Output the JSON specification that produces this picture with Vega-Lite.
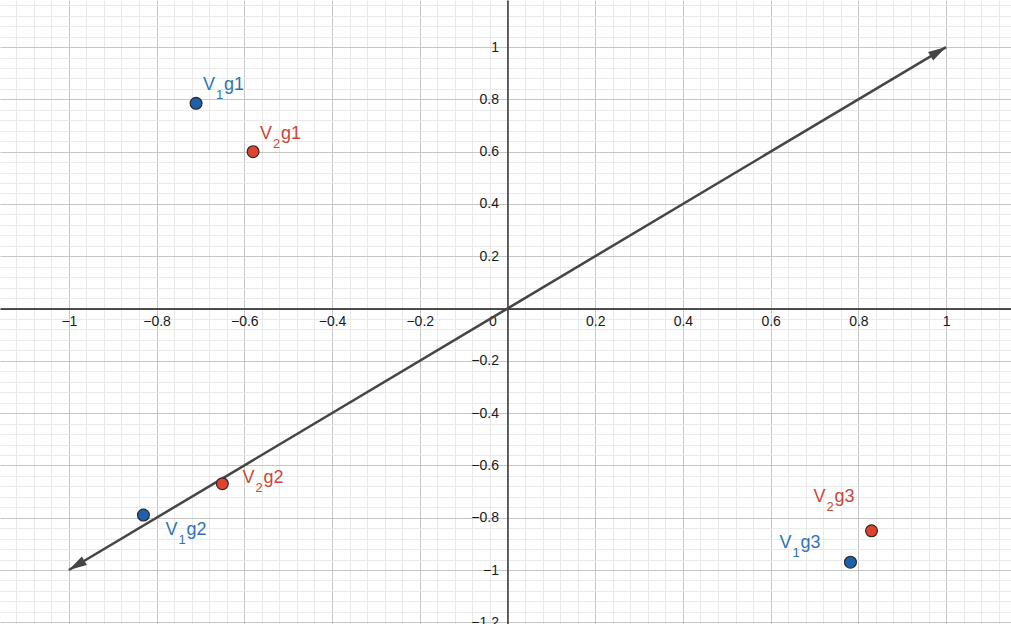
{
  "$schema": "https://vega.github.io/schema/vega-lite/v6.json",
  "width": 1011,
  "height": 624,
  "autosize": "none",
  "padding": 0,
  "background": "white",
  "config": {
    "view": {"stroke": null},
    "text": {"align": "left", "baseline": "alphabetic", "font": "Liberation Sans, Arial, sans-serif", "fontSize": 18}
  },
  "datasets": {
    "pts": [
      {"label": "V1g1", "vec": "V1", "sub": "1", "rest": "g1", "x": -0.71, "y": 0.785},
      {"label": "V2g1", "vec": "V2", "sub": "2", "rest": "g1", "x": -0.58, "y": 0.6},
      {"label": "V1g2", "vec": "V1", "sub": "1", "rest": "g2", "x": -0.83, "y": -0.79},
      {"label": "V2g2", "vec": "V2", "sub": "2", "rest": "g2", "x": -0.65, "y": -0.67},
      {"label": "V1g3", "vec": "V1", "sub": "1", "rest": "g3", "x": 0.782, "y": -0.97},
      {"label": "V2g3", "vec": "V2", "sub": "2", "rest": "g3", "x": 0.83, "y": -0.85}
    ],
    "line": [
      {"end": "start", "x": -1, "y": -1},
      {"end": "end", "x": 1, "y": 1}
    ]
  },
  "layer": [
    {
      "data": {"name": "line"},
      "mark": {"type": "line", "color": "#454545", "strokeWidth": 2.5},
      "encoding": {
        "x": {
          "field": "x", "type": "quantitative",
          "scale": {"domain": [-1.157, 1.148], "nice": false, "zero": false},
          "axis": {
            "orient": "bottom", "offset": -315.5, "title": null, "ticks": false, "tickCount": 1000, "format": "~g",
            "values": [-1.12,-1.08,-1.04,-1,-0.96,-0.92,-0.88,-0.84,-0.8,-0.76,-0.72,-0.68,-0.64,-0.6,-0.56,-0.52,-0.48,-0.44,-0.4,-0.36,-0.32,-0.28,-0.24,-0.2,-0.16,-0.12,-0.08,-0.04,0,0.04,0.08,0.12,0.16,0.2,0.24,0.28,0.32,0.36,0.4,0.44,0.48,0.52,0.56,0.6,0.64,0.68,0.72,0.76,0.8,0.84,0.88,0.92,0.96,1,1.04,1.08,1.12],
            "domainColor": "#1a1a1a", "domainWidth": 1.3,
            "grid": true,
            "gridColor": {"condition": {"test": "abs(datum.value*5-round(datum.value*5))<0.001", "value": "#c6c6c6"}, "value": "#e9e9e9"},
            "gridWidth": 1,
            "labelExpr": "abs(datum.value*5-round(datum.value*5))<0.001 ? datum.label : ''",
            "labelFont": "Liberation Sans", "labelFontSize": 14, "labelColor": "#1a1a1a",
            "labelPadding": 6,
            "labelOffset": {"condition": {"test": "datum.value==0", "value": -15}, "value": 0},
            "labelFlush": false, "labelOverlap": false, "labelBound": false
          }
        },
        "y": {
          "field": "y", "type": "quantitative",
          "scale": {"domain": [-1.2065, 1.18], "nice": false, "zero": false},
          "axis": {
            "orient": "left", "offset": -507.5, "title": null, "ticks": false, "tickCount": 1000, "format": "~g",
            "values": [-1.2,-1.16,-1.12,-1.08,-1.04,-1,-0.96,-0.92,-0.88,-0.84,-0.8,-0.76,-0.72,-0.68,-0.64,-0.6,-0.56,-0.52,-0.48,-0.44,-0.4,-0.36,-0.32,-0.28,-0.24,-0.2,-0.16,-0.12,-0.08,-0.04,0,0.04,0.08,0.12,0.16,0.2,0.24,0.28,0.32,0.36,0.4,0.44,0.48,0.52,0.56,0.6,0.64,0.68,0.72,0.76,0.8,0.84,0.88,0.92,0.96,1,1.04,1.08,1.12,1.16],
            "domainColor": "#1a1a1a", "domainWidth": 1.3,
            "grid": true,
            "gridColor": {"condition": {"test": "abs(datum.value*5-round(datum.value*5))<0.001", "value": "#c6c6c6"}, "value": "#e9e9e9"},
            "gridWidth": 1,
            "labelExpr": "(abs(datum.value*5-round(datum.value*5))<0.001 && datum.value != 0) ? datum.label : ''",
            "labelFont": "Liberation Sans", "labelFontSize": 14, "labelColor": "#1a1a1a",
            "labelPadding": 9, "labelBaseline": "middle",
            "labelFlush": false, "labelOverlap": false, "labelBound": false
          }
        }
      }
    },
    {
      "data": {"name": "line"},
      "transform": [{"filter": "datum.end == 'end'"}],
      "mark": {"type": "point", "shape": "M0,0L-0.55,2L0.55,2Z", "size": 324, "angle": 59.2, "filled": true, "color": "#454545", "opacity": 1},
      "encoding": {"x": {"field": "x", "type": "quantitative"}, "y": {"field": "y", "type": "quantitative"}}
    },
    {
      "data": {"name": "line"},
      "transform": [{"filter": "datum.end == 'start'"}],
      "mark": {"type": "point", "shape": "M0,0L-0.55,2L0.55,2Z", "size": 324, "angle": 239.2, "filled": true, "color": "#454545", "opacity": 1},
      "encoding": {"x": {"field": "x", "type": "quantitative"}, "y": {"field": "y", "type": "quantitative"}}
    },
    {
      "data": {"name": "pts"},
      "mark": {"type": "point", "shape": "circle", "size": 140, "filled": true, "opacity": 1, "stroke": "#2a2a2a", "strokeWidth": 1.2},
      "encoding": {
        "x": {"field": "x", "type": "quantitative"},
        "y": {"field": "y", "type": "quantitative"},
        "fill": {"field": "vec", "type": "nominal", "scale": {"domain": ["V1", "V2"], "range": ["#1f60aa", "#e0432d"]}, "legend": null}
      }
    },
    {
      "data": {"name": "pts"},
      "transform": [{"filter": "datum.label == 'V1g1'"}],
      "encoding": {"x": {"field": "x", "type": "quantitative"}, "y": {"field": "y", "type": "quantitative"}},
      "layer": [
        {"mark": {"type": "text", "dx": 7, "dy": -13, "color": "#2f74b2"}, "encoding": {"text": {"value": "V"}}},
        {"mark": {"type": "text", "dx": 20, "dy": -4, "fontSize": 13, "color": "#2f74b2"}, "encoding": {"text": {"field": "sub"}}},
        {"mark": {"type": "text", "dx": 28, "dy": -13, "color": "#2f74b2"}, "encoding": {"text": {"field": "rest"}}}
      ]
    },
    {
      "data": {"name": "pts"},
      "transform": [{"filter": "datum.label == 'V2g1'"}],
      "encoding": {"x": {"field": "x", "type": "quantitative"}, "y": {"field": "y", "type": "quantitative"}},
      "layer": [
        {"mark": {"type": "text", "dx": 7, "dy": -13, "color": "#c9473a"}, "encoding": {"text": {"value": "V"}}},
        {"mark": {"type": "text", "dx": 20, "dy": -4, "fontSize": 13, "color": "#c9473a"}, "encoding": {"text": {"field": "sub"}}},
        {"mark": {"type": "text", "dx": 28, "dy": -13, "color": "#c9473a"}, "encoding": {"text": {"field": "rest"}}}
      ]
    },
    {
      "data": {"name": "pts"},
      "transform": [{"filter": "datum.label == 'V2g2'"}],
      "encoding": {"x": {"field": "x", "type": "quantitative"}, "y": {"field": "y", "type": "quantitative"}},
      "layer": [
        {"mark": {"type": "text", "dx": 20, "dy": -1, "color": "#c9473a"}, "encoding": {"text": {"value": "V"}}},
        {"mark": {"type": "text", "dx": 33, "dy": 8, "fontSize": 13, "color": "#c9473a"}, "encoding": {"text": {"field": "sub"}}},
        {"mark": {"type": "text", "dx": 41, "dy": -1, "color": "#c9473a"}, "encoding": {"text": {"field": "rest"}}}
      ]
    },
    {
      "data": {"name": "pts"},
      "transform": [{"filter": "datum.label == 'V1g2'"}],
      "encoding": {"x": {"field": "x", "type": "quantitative"}, "y": {"field": "y", "type": "quantitative"}},
      "layer": [
        {"mark": {"type": "text", "dx": 22, "dy": 20, "color": "#2f74b2"}, "encoding": {"text": {"value": "V"}}},
        {"mark": {"type": "text", "dx": 35, "dy": 29, "fontSize": 13, "color": "#2f74b2"}, "encoding": {"text": {"field": "sub"}}},
        {"mark": {"type": "text", "dx": 43, "dy": 20, "color": "#2f74b2"}, "encoding": {"text": {"field": "rest"}}}
      ]
    },
    {
      "data": {"name": "pts"},
      "transform": [{"filter": "datum.label == 'V2g3'"}],
      "encoding": {"x": {"field": "x", "type": "quantitative"}, "y": {"field": "y", "type": "quantitative"}},
      "layer": [
        {"mark": {"type": "text", "dx": -58, "dy": -29, "color": "#c9473a"}, "encoding": {"text": {"value": "V"}}},
        {"mark": {"type": "text", "dx": -45, "dy": -20, "fontSize": 13, "color": "#c9473a"}, "encoding": {"text": {"field": "sub"}}},
        {"mark": {"type": "text", "dx": -37, "dy": -29, "color": "#c9473a"}, "encoding": {"text": {"field": "rest"}}}
      ]
    },
    {
      "data": {"name": "pts"},
      "transform": [{"filter": "datum.label == 'V1g3'"}],
      "encoding": {"x": {"field": "x", "type": "quantitative"}, "y": {"field": "y", "type": "quantitative"}},
      "layer": [
        {"mark": {"type": "text", "dx": -71, "dy": -14, "color": "#2f74b2"}, "encoding": {"text": {"value": "V"}}},
        {"mark": {"type": "text", "dx": -58, "dy": -5, "fontSize": 13, "color": "#2f74b2"}, "encoding": {"text": {"field": "sub"}}},
        {"mark": {"type": "text", "dx": -50, "dy": -14, "color": "#2f74b2"}, "encoding": {"text": {"field": "rest"}}}
      ]
    }
  ]
}
